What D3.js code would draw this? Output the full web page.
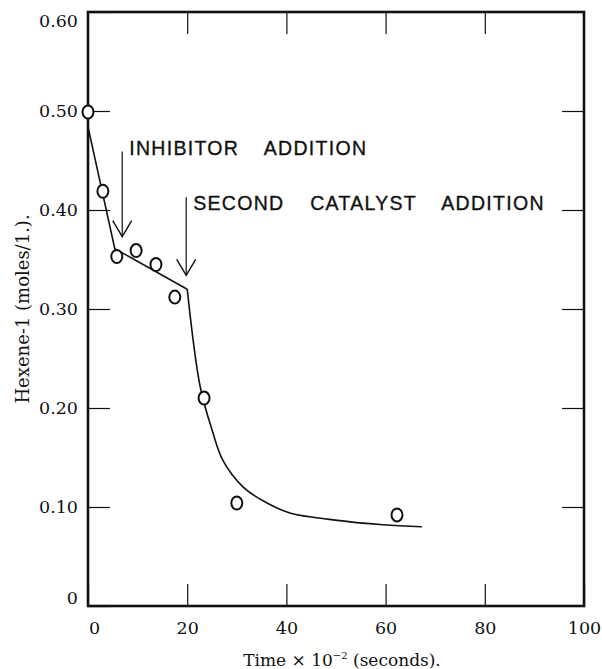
<!DOCTYPE html>
<html>
<head>
<meta charset="utf-8">
<script src="https://cdn.jsdelivr.net/npm/d3@7"></script>
<style>
  body { margin: 0; background: #fff; }
  svg { display: block; }
</style>
</head>
<body>
<svg></svg>
<script>
// Measured points (time x 10^-2 s, hexene-1 moles/l.)
const sampleTime = [0, 3.0, 5.8, 9.7, 13.7, 17.5, 23.4, 30.0, 62.3];
const sampleConc = [0.499, 0.419, 0.353, 0.359, 0.345, 0.312, 0.210, 0.104, 0.092];

// Straight rate lines before the second catalyst addition
const lineTime = [0, 5.4, 20];
const lineConc = [0.484, 0.361, 0.320];

// Smooth decay after the second catalyst addition
const decayTime = [20, 22.6, 25, 27.2, 31.3, 36.1, 40.7, 49.4, 59.5, 67.3];
const decayConc = [0.320, 0.222, 0.178, 0.147, 0.120, 0.104, 0.094, 0.087, 0.082, 0.080];

// Axis ticks
const xTicks = [0, 20, 40, 60, 80, 100];
const yTicks = [0, 0.1, 0.2, 0.3, 0.4, 0.5, 0.6];

// Annotations (arrow time, arrow top, arrow tip, label baseline)
const noteLabels = ["INHIBITOR ADDITION", "SECOND CATALYST ADDITION"];
const noteTime = [6.9, 19.8];
const noteTop = [0.459, 0.413];
const noteTip = [0.373, 0.334];
const noteLabelY = [0.456, 0.400];

const width = 602, height = 669, margin = { top: 12, right: 18, bottom: 63, left: 88 };

const svg = d3.select("svg")
    .attr("width", width)
    .attr("height", height);

const x = d3.scaleLinear().domain([0, 100]).range([margin.left, width - margin.right]);
const y = d3.scaleLinear().domain([0, 0.6]).range([height - margin.bottom, margin.top]);

const serif = "'DejaVu Serif', serif";
const tickLen = 22;

// Bottom axis with labels, ticks pointing inward
const xAxis = svg.append("g")
    .attr("transform", `translate(0,${y(0)})`)
    .call(d3.axisBottom(x).tickValues(xTicks).tickFormat(d3.format("d"))
        .tickSizeInner(-tickLen).tickSizeOuter(0).tickPadding(16));
xAxis.select(".domain").remove();
xAxis.selectAll("text")
    .style("font-family", serif).style("font-size", "17.5px").attr("fill", "#111")
    .attr("dx", d => d === 0 ? 6 : 0);

// Left axis with labels
const yAxis = svg.append("g")
    .attr("transform", `translate(${x(0)},0)`)
    .call(d3.axisLeft(y).tickValues(yTicks).tickFormat(d => d === 0 ? "0" : d3.format(".2f")(d))
        .tickSizeInner(-tickLen).tickSizeOuter(0).tickPadding(10));
yAxis.select(".domain").remove();
yAxis.selectAll("text")
    .style("font-family", serif).style("font-size", "17.5px").attr("fill", "#111")
    .attr("dy", d => d === 0 ? "-0.15em" : d === 0.6 ? "0.85em" : "0.32em");

// Top and right ticks, no labels
const topAxis = svg.append("g")
    .attr("transform", `translate(0,${y(0.6)})`)
    .call(d3.axisTop(x).tickValues(xTicks.slice(1, -1)).tickFormat("")
        .tickSizeInner(-tickLen).tickSizeOuter(0));
topAxis.select(".domain").remove();

const rightAxis = svg.append("g")
    .attr("transform", `translate(${x(100)},0)`)
    .call(d3.axisRight(y).tickValues(yTicks.slice(1, -1)).tickFormat("")
        .tickSizeInner(-tickLen).tickSizeOuter(0));
rightAxis.select(".domain").remove();

svg.selectAll(".tick line").attr("stroke", "#111").attr("stroke-width", 1.2);

// Frame
svg.append("rect")
    .attr("x", x(0)).attr("y", y(0.6))
    .attr("width", x(100) - x(0)).attr("height", y(0) - y(0.6))
    .attr("fill", "none").attr("stroke", "#111").attr("stroke-width", 2.6);

// Axis titles
const xTitle = svg.append("text")
    .attr("x", (x(0) + x(100)) / 2 + 6)
    .attr("y", height - 3)
    .attr("text-anchor", "middle")
    .style("font-family", serif).style("font-size", "17px").attr("fill", "#111");
xTitle.append("tspan").text("Time \u00d7 10");
xTitle.append("tspan").attr("dy", -7).style("font-size", "10px").text("\u22122");
xTitle.append("tspan").attr("dy", 7).text(" (seconds).");

svg.append("text")
    .attr("transform", `translate(29,${(y(0) + y(0.6)) / 2}) rotate(-90)`)
    .attr("text-anchor", "middle")
    .style("font-family", serif).style("font-size", "18px").attr("fill", "#111")
    .text("Hexene-1 (moles/1.).");

// Curves
const lineData = lineTime.map((t, i) => [t, lineConc[i]]);
const decayData = decayTime.map((t, i) => [t, decayConc[i]]);

svg.append("path")
    .datum(lineData)
    .attr("fill", "none").attr("stroke", "#111").attr("stroke-width", 1.6)
    .attr("d", d3.line().x(d => x(d[0])).y(d => y(d[1])));

svg.append("path")
    .datum(decayData)
    .attr("fill", "none").attr("stroke", "#111").attr("stroke-width", 1.6)
    .attr("d", d3.line().x(d => x(d[0])).y(d => y(d[1])).curve(d3.curveCatmullRom.alpha(0.5)));

// Sample circles
svg.selectAll("ellipse.pt")
    .data(sampleTime.map((t, i) => [t, sampleConc[i]]))
    .enter().append("ellipse")
    .attr("class", "pt")
    .attr("cx", d => x(d[0]))
    .attr("cy", d => y(d[1]))
    .attr("rx", 5.5).attr("ry", 6.5)
    .attr("fill", "#fff").attr("stroke", "#111").attr("stroke-width", 2);

// Arrows and labels
noteLabels.forEach((label, i) => {
    const ax = x(noteTime[i]);
    svg.append("line")
        .attr("x1", ax).attr("x2", ax)
        .attr("y1", y(noteTop[i])).attr("y2", y(noteTip[i]))
        .attr("stroke", "#111").attr("stroke-width", 1.2);
    svg.append("path")
        .attr("d", `M${ax - 9.5},${y(noteTip[i]) - 16} L${ax},${y(noteTip[i])} L${ax + 9.5},${y(noteTip[i]) - 16}`)
        .attr("fill", "none").attr("stroke", "#111").attr("stroke-width", 1.4);
    svg.append("text")
        .attr("x", ax + 7)
        .attr("y", y(noteLabelY[i]))
        .style("font-family", "'Liberation Sans', Arial, sans-serif")
        .style("font-size", "19.5px")
        .style("letter-spacing", "1.3px")
        .style("word-spacing", "19px")
        .attr("fill", "#111")
        .attr("stroke", "#111").attr("stroke-width", 0.35)
        .text(label);
});
</script>
</body>
</html>
